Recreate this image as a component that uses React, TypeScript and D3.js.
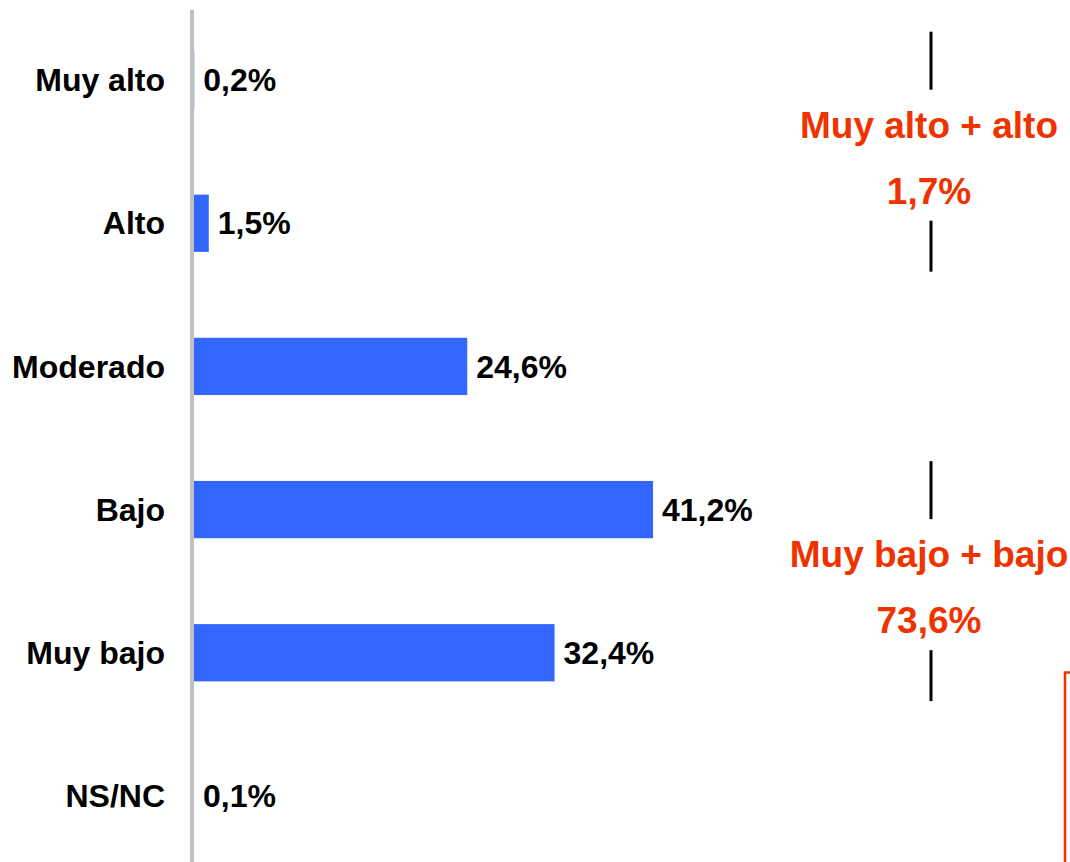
import React from "react";
import * as d3 from "d3";

const categories = ["Muy alto", "Alto", "Moderado", "Bajo", "Muy bajo", "NS/NC"];
const values = [0.2, 1.5, 24.6, 41.2, 32.4, 0.1];
const valueLabels = ["0,2%", "1,5%", "24,6%", "41,2%", "32,4%", "0,1%"];

const groupNames = ["Muy alto + alto", "Muy bajo + bajo"];
const groupValueLabels = ["1,7%", "73,6%"];
const groupMembers = [["Muy alto", "Alto"], ["Bajo", "Muy bajo"]];

const W = 1070;
const H = 862;
const BLUE = "#3366FF";
const RED = "#EE3300";
const FONT = "'Liberation Sans', Arial, sans-serif";

export default function App() {
  const x = d3.scaleLinear().domain([0, 100]).range([192, 192 + 1119]);
  const y = d3
    .scaleBand<string>()
    .domain(categories)
    .range([8.5, 867.5])
    .paddingInner(0.6)
    .paddingOuter(0.3);
  const bw = y.bandwidth();
  const groupX = 929;

  return (
    <svg
      width={W}
      height={H}
      style={{ position: "absolute", left: 0, top: 0, background: "#fff" }}
    >
      {categories.map((c, i) => {
        const cy = (y(c) as number) + bw / 2;
        const w = x(values[i]) - x(0);
        return (
          <g key={c}>
            <text
              x={165}
              y={cy}
              dy="0.35em"
              textAnchor="end"
              fontFamily={FONT}
              fontWeight="bold"
              fontSize={32}
              fill="#000"
            >
              {c}
            </text>
            <rect x={x(0)} y={y(c)} width={Math.max(0, w)} height={bw} fill={BLUE} />
            <text
              x={Math.max(x(values[i]), 194) + 9}
              y={cy}
              dy="0.35em"
              fontFamily={FONT}
              fontWeight="bold"
              fontSize={32}
              fill="#000"
            >
              {valueLabels[i]}
            </text>
          </g>
        );
      })}
      <line x1={192} x2={192} y1={10} y2={H} stroke="#C0C0C0" strokeWidth={4} />
      {groupNames.map((g, gi) => {
        const [a, b] = groupMembers[gi];
        const mid = ((y(a) as number) + (y(b) as number)) / 2 + bw / 2;
        return (
          <g key={g}>
            <line x1={931} x2={931} y1={mid - 120} y2={mid - 62} stroke="#000" strokeWidth={3} />
            <text
              x={groupX}
              y={mid - 14}
              textAnchor="middle"
              fontFamily={FONT}
              fontWeight="bold"
              fontSize={37}
              fill={RED}
            >
              {g}
            </text>
            <text
              x={groupX}
              y={mid + 52}
              textAnchor="middle"
              fontFamily={FONT}
              fontWeight="bold"
              fontSize={37}
              fill={RED}
            >
              {groupValueLabels[gi]}
            </text>
            <line x1={931} x2={931} y1={mid + 69} y2={mid + 120} stroke="#000" strokeWidth={3} />
          </g>
        );
      })}
      <path d={`M1065,${H} V672.5 H1070`} fill="none" stroke={RED} strokeWidth={2.5} />
    </svg>
  );
}
